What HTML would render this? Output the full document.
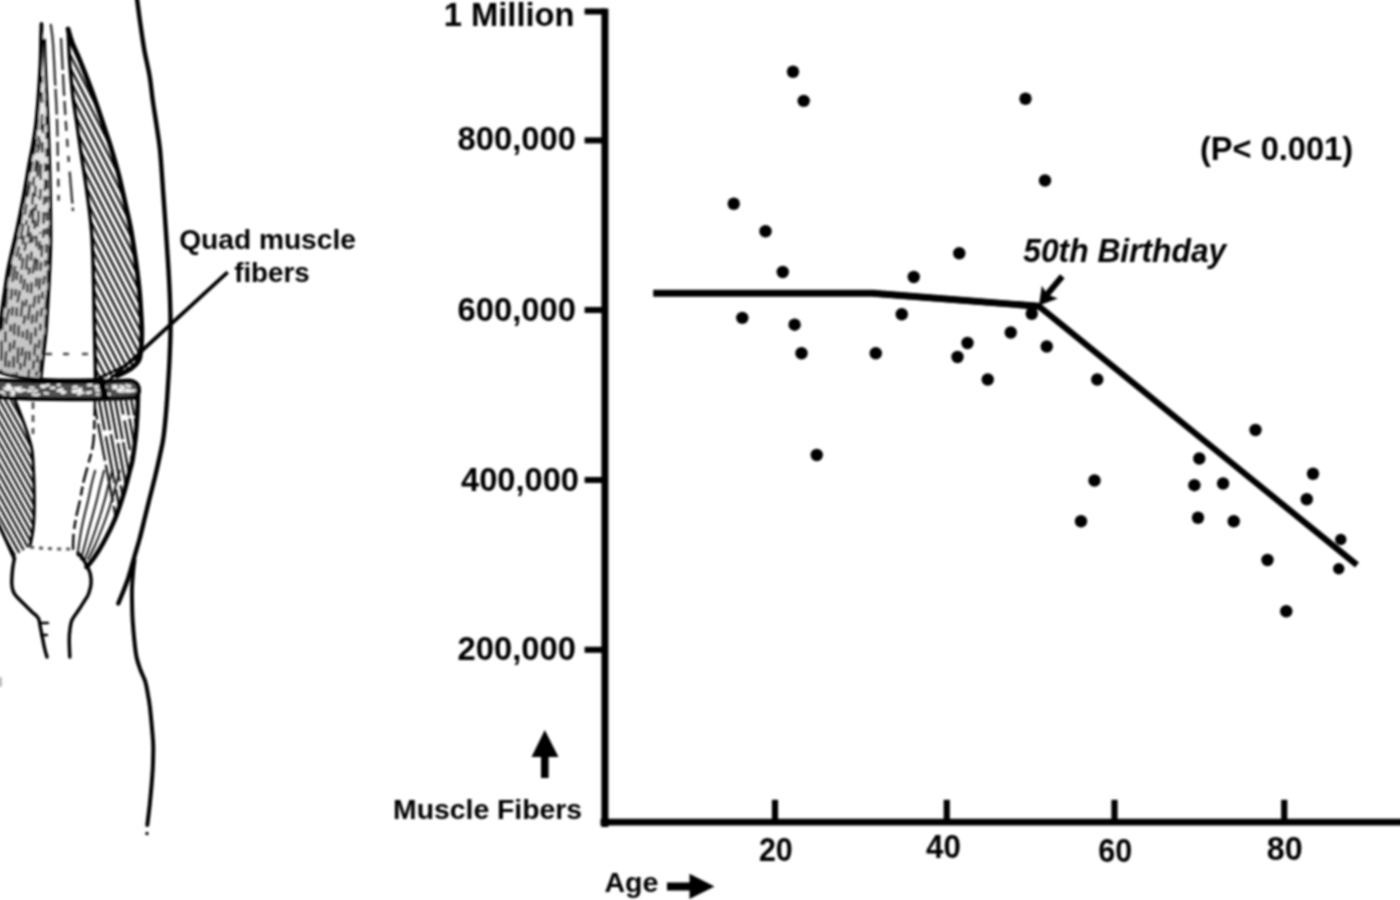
<!DOCTYPE html>
<html lang="en"><head><meta charset="utf-8"><title>Muscle fibers vs age</title>
<style>
html,body{margin:0;padding:0;background:#fff;}
body{width:1400px;height:900px;overflow:hidden;}
svg{display:block;}
text{font-family:"Liberation Sans",Arial,Helvetica,sans-serif;font-weight:bold;fill:#000;}
</style></head><body>
<svg width="1400" height="900" viewBox="0 0 1400 900">
<rect width="1400" height="900" fill="#fff"/>
<defs>
<filter id="soft" filterUnits="userSpaceOnUse" x="-20" y="-20" width="1440" height="940"><feGaussianBlur stdDeviation="1.0"/></filter>
</defs>
<g filter="url(#soft)">

<g id="chart" stroke="#000" fill="none" stroke-linecap="butt">
<path d="M604.9 8.5 V827" stroke-width="7"/>
<path d="M600.5 822.2 H1410" stroke-width="6.8"/>
<path d="M584.6 11.5 H605" stroke-width="6.1"/>
<path d="M584.6 140.4 H605" stroke-width="6.1"/>
<path d="M584.6 310 H605" stroke-width="6.1"/>
<path d="M584.6 480 H605" stroke-width="6.1"/>
<path d="M584.6 649.8 H605" stroke-width="6.1"/>
<path d="M775 799.8 V822" stroke-width="6.2"/>
<path d="M946.75 799.8 V822" stroke-width="6.2"/>
<path d="M1114.5 799.8 V822" stroke-width="6.2"/>
<path d="M1284.25 799.8 V822" stroke-width="6.2"/>
<path d="M653.2 293.3 H873 L1039 306.3" stroke-width="6.9"/>
<path d="M873 293.3 L1039 306.3 L1357 565" stroke-width="6.3" stroke-linejoin="miter"/>
</g>
<g id="dots" fill="#000">
<circle cx="733.75" cy="203.75" r="6.2"/>
<circle cx="765.5" cy="231.25" r="6.2"/>
<circle cx="793" cy="71.75" r="6.2"/>
<circle cx="803.7" cy="100.9" r="6.2"/>
<circle cx="782.75" cy="272" r="6.2"/>
<circle cx="742.3" cy="317.9" r="6.2"/>
<circle cx="794.6" cy="324.7" r="6.2"/>
<circle cx="801.5" cy="353.25" r="6.2"/>
<circle cx="816.75" cy="455" r="6.2"/>
<circle cx="875.75" cy="353.25" r="6.2"/>
<circle cx="901.75" cy="314.25" r="6.2"/>
<circle cx="913.75" cy="277" r="6.2"/>
<circle cx="959.25" cy="253.25" r="6.2"/>
<circle cx="957.5" cy="357" r="6.2"/>
<circle cx="967.5" cy="343" r="6.2"/>
<circle cx="987.75" cy="379.5" r="6.2"/>
<circle cx="1010.75" cy="332.5" r="6.2"/>
<circle cx="1025.5" cy="98.75" r="6.2"/>
<circle cx="1045" cy="180.5" r="6.2"/>
<circle cx="1031.75" cy="313.75" r="6.2"/>
<circle cx="1046.75" cy="346.5" r="6.2"/>
<circle cx="1097.25" cy="379.5" r="6.2"/>
<circle cx="1094.5" cy="480.5" r="6.2"/>
<circle cx="1081" cy="521.25" r="6.2"/>
<circle cx="1199.3" cy="458.5" r="6.2"/>
<circle cx="1194.4" cy="485.2" r="6.2"/>
<circle cx="1198" cy="517.75" r="6.2"/>
<circle cx="1223.1" cy="483.5" r="6.2"/>
<circle cx="1233.75" cy="521.25" r="6.2"/>
<circle cx="1255.5" cy="430" r="6.2"/>
<circle cx="1267.5" cy="560" r="6.2"/>
<circle cx="1286.25" cy="611.25" r="6.2"/>
<circle cx="1313" cy="473.75" r="6.2"/>
<circle cx="1306.75" cy="499.25" r="6.2"/>
<circle cx="1340.75" cy="539.5" r="5.7"/>
<circle cx="1338.75" cy="568.75" r="5.7"/>
</g>
<g id="arrows" fill="#000" stroke="none">
<path d="M544.8 730 L558.5 757 H548.6 V778 H541 V757 H531.5 Z"/>
<path d="M714.5 886.4 L689.5 873.8 V882.5 H667 V890.4 H689.5 V899 Z"/>
<path d="M1062.3 276.3 L1047 294.5" stroke="#000" stroke-width="6" fill="none"/>
<path d="M1039 305.5 L1041.8 285.8 L1047.5 294.5 L1057.8 298.6 Z"/>
</g>
<g id="labels">
<text x="443.7" y="26.2" font-size="33.0" textLength="130.9" lengthAdjust="spacingAndGlyphs">1 Million</text>
<text x="457.5" y="149.8" font-size="33.0" textLength="118.4" lengthAdjust="spacingAndGlyphs">800,000</text>
<text x="457.5" y="321.1" font-size="33.0" textLength="118.4" lengthAdjust="spacingAndGlyphs">600,000</text>
<text x="461.0" y="491.1" font-size="33.0" textLength="118.0" lengthAdjust="spacingAndGlyphs">400,000</text>
<text x="457.5" y="660.4" font-size="33.0" textLength="118.4" lengthAdjust="spacingAndGlyphs">200,000</text>
<text x="758.9" y="860.8" font-size="33.0" textLength="33.9" lengthAdjust="spacingAndGlyphs">20</text>
<text x="926.0" y="858.4" font-size="33.0" textLength="34.9" lengthAdjust="spacingAndGlyphs">40</text>
<text x="1098.2" y="862.3" font-size="33.0" textLength="33.9" lengthAdjust="spacingAndGlyphs">60</text>
<text x="1266.7" y="860.4" font-size="33.0" textLength="35.9" lengthAdjust="spacingAndGlyphs">80</text>
<text x="604.4" y="892.0" font-size="28.4" textLength="53.9" lengthAdjust="spacingAndGlyphs">Age</text>
<text x="393.1" y="819.3" font-size="28.4" textLength="189.0" lengthAdjust="spacingAndGlyphs">Muscle Fibers</text>
<text x="179.2" y="248.6" font-size="28.4" textLength="176.7" lengthAdjust="spacingAndGlyphs">Quad muscle</text>
<text x="234.2" y="281.6" font-size="28.4" textLength="75.5" lengthAdjust="spacingAndGlyphs">fibers</text>
<text x="1023.3" y="261.8" font-size="33.0" textLength="202.9" lengthAdjust="spacingAndGlyphs" font-style="italic">50th Birthday</text>
<text x="1200.0" y="160.4" font-size="33.0" textLength="153.1" lengthAdjust="spacingAndGlyphs">(P&lt; 0.001)</text>
</g>
<g id="anatomy" stroke="#000" fill="none" stroke-linecap="round" stroke-linejoin="round">
<defs>
<clipPath id="cRU"><path d="M68.0 29.0 C68.7 31.2 70.0 36.7 72.0 42.0 C74.0 47.3 76.9 53.2 80.0 60.7 C83.1 68.2 87.4 79.1 90.5 87.3 C93.6 95.5 96.2 103.2 98.5 110.0 C100.8 116.8 102.5 121.9 104.5 128.0 C106.5 134.1 108.3 138.7 110.7 146.7 C113.1 154.7 116.5 166.0 119.0 176.0 C121.5 186.0 123.9 197.2 126.0 206.7 C128.1 216.2 129.7 222.4 131.5 233.0 C133.3 243.6 135.7 260.2 137.0 270.0 C138.3 279.8 138.8 284.8 139.5 292.0 C140.2 299.2 140.6 306.7 141.0 313.0 C141.4 319.3 141.8 324.5 141.8 330.0 C141.9 335.5 141.8 341.0 141.3 346.0 C140.8 351.0 140.7 356.2 139.0 360.0 C137.3 363.8 134.7 365.8 131.0 368.5 C127.3 371.2 119.3 374.8 117.0 376.0 L95.5 379.0 C95.4 375.0 95.2 363.2 95.0 355.0 C94.8 346.8 94.6 340.8 94.4 330.0 C94.2 319.2 93.9 301.3 93.7 290.0 C93.5 278.7 93.3 271.2 93.0 262.0 C92.7 252.8 92.4 243.7 91.8 235.0 C91.2 226.3 90.3 218.8 89.3 210.0 C88.2 201.2 86.8 191.2 85.5 182.0 C84.2 172.8 82.7 164.5 81.3 155.0 C79.9 145.5 78.4 135.0 77.0 125.0 C75.6 115.0 73.9 105.3 72.7 95.0 C71.5 84.7 70.4 71.3 69.7 63.0 C69.0 54.7 69.0 50.7 68.7 45.0 C68.4 39.3 68.1 31.7 68.0 29.0 Z"/></clipPath>
<clipPath id="cLU"><path d="M41.5 24.0 C41.5 26.2 41.4 30.2 41.2 37.0 C41.0 43.8 41.0 54.5 40.5 65.0 C40.0 75.5 39.0 90.0 38.3 100.0 C37.5 110.0 36.9 117.5 36.0 125.0 C35.1 132.5 34.1 138.7 33.0 145.0 C31.9 151.3 31.0 154.7 29.5 163.0 C28.0 171.3 26.0 184.2 24.0 195.0 C22.0 205.8 19.5 218.5 17.5 228.0 C15.5 237.5 13.6 244.7 12.0 252.0 C10.4 259.3 9.0 265.3 7.8 272.0 C6.6 278.7 5.7 286.0 4.8 292.0 C3.9 298.0 3.5 301.7 2.5 308.0 C1.5 314.3 -0.4 326.3 -1.0 330.0 L-3 330 L-3 372 L41 378 C41.4 374.2 42.6 363.0 43.5 355.0 C44.4 347.0 45.5 340.0 46.3 330.0 C47.1 320.0 47.9 305.0 48.5 295.0 C49.1 285.0 49.4 279.2 49.8 270.0 C50.2 260.8 50.7 251.7 50.8 240.0 C50.9 228.3 50.7 213.3 50.5 200.0 C50.3 186.7 49.9 173.3 49.5 160.0 C49.1 146.7 48.5 131.7 48.0 120.0 C47.5 108.3 47.0 100.5 46.5 90.0 C46.0 79.5 45.3 65.3 45.0 57.0 C44.7 48.7 44.6 42.8 44.5 40.0 Z"/></clipPath>
<clipPath id="cLL"><path d="M15.0 400.0 C15.9 402.3 18.5 408.7 20.5 414.0 C22.5 419.3 25.1 426.0 27.0 432.0 C28.9 438.0 30.9 443.7 32.0 450.0 C33.1 456.3 33.1 463.3 33.5 470.0 C33.9 476.7 34.1 483.0 34.2 490.0 C34.3 497.0 34.4 505.3 34.2 512.0 C34.0 518.7 33.7 524.3 33.0 530.0 C32.3 535.7 30.5 543.3 30.0 546.0 L13 557 L-4 520 L-4 398 Z"/></clipPath>
<clipPath id="cRL"><path d="M138.0 394.0 C137.9 397.5 137.7 407.7 137.3 415.0 C136.9 422.3 136.3 430.5 135.5 438.0 C134.7 445.5 133.5 454.3 132.5 460.0 C131.5 465.7 131.0 466.2 129.5 472.0 C128.0 477.8 125.7 487.2 123.3 495.0 C120.9 502.8 117.8 512.1 115.0 519.0 C112.2 525.9 109.5 531.2 106.7 536.5 C104.0 541.8 101.1 546.8 98.5 551.0 C95.9 555.2 93.0 559.3 91.0 562.0 C89.0 564.7 87.2 566.2 86.5 567.0 L73 551 C73.1 547.5 73.0 540.3 73.5 535.0 C74.0 529.7 74.9 523.8 76.0 518.0 C77.1 512.2 78.8 506.0 80.0 500.0 C81.2 494.0 82.2 487.8 83.5 482.0 C84.8 476.2 86.4 471.2 88.0 465.0 C89.6 458.8 92.0 451.7 93.0 445.0 C94.0 438.3 94.0 432.5 94.3 425.0 C94.6 417.5 94.9 404.2 95.0 400.0 Z"/></clipPath>
<clipPath id="cBAND"><path d="M-4 380 C30 382 90 382 130 380 C137 380 139 386 139 390 L137 398 C100 400 40 400 -4 397 Z"/></clipPath>
<linearGradient id="gLU" gradientUnits="userSpaceOnUse" x1="0" y1="40" x2="0" y2="380"><stop offset="0" stop-color="#f2f2f2"/><stop offset="0.5" stop-color="#dcdcdc"/><stop offset="1" stop-color="#bebebe"/></linearGradient>
</defs>
<path d="M136.8 -3.0 C137.4 1.7 139.2 16.2 140.5 25.0 C141.8 33.8 142.8 41.5 144.3 50.0 C145.8 58.5 148.2 67.7 149.6 76.0 C151.0 84.3 151.5 91.8 152.7 100.0 C153.8 108.2 155.3 116.7 156.5 125.0 C157.7 133.3 158.9 139.2 160.0 150.0 C161.1 160.8 162.1 177.5 163.0 190.0 C163.9 202.5 164.7 213.0 165.5 225.0 C166.3 237.0 167.2 249.5 168.0 262.0 C168.8 274.5 169.6 288.7 170.0 300.0 C170.4 311.3 170.6 320.0 170.5 330.0 C170.4 340.0 169.9 350.8 169.5 360.0 C169.1 369.2 168.5 377.2 168.0 385.0 C167.5 392.8 167.2 398.3 166.5 407.0 C165.8 415.7 164.6 429.0 163.5 437.0 C162.4 445.0 161.4 448.3 160.0 455.0 C158.6 461.7 156.8 469.5 155.0 477.0 C153.2 484.5 151.1 492.5 149.2 500.0 C147.3 507.5 145.5 515.3 143.8 522.0 C142.2 528.7 140.9 534.2 139.3 540.0 C137.7 545.8 136.1 550.7 134.3 557.0 C132.5 563.3 130.2 572.2 128.3 578.0 C126.4 583.8 124.7 587.8 123.0 592.0 C121.3 596.2 119.1 601.6 118.3 603.5" stroke-width="4.4"/>
<path d="M134.5 560.0 C134.2 562.2 133.4 568.3 133.0 573.0 C132.6 577.7 132.2 582.7 132.0 588.0 C131.8 593.3 132.0 599.5 132.1 605.0 C132.2 610.5 132.3 615.2 132.7 621.0 C133.1 626.8 133.7 634.0 134.3 640.0 C134.9 646.0 135.5 652.0 136.5 657.0 C137.5 662.0 139.0 665.8 140.5 670.0 C142.0 674.2 144.2 677.8 145.4 682.0 C146.7 686.2 147.2 690.8 148.0 695.0 C148.8 699.2 149.3 702.0 149.9 707.0 C150.5 712.0 151.1 718.7 151.7 725.0 C152.2 731.3 153.0 738.3 153.2 745.0 C153.4 751.7 153.1 758.8 152.9 765.0 C152.7 771.2 152.3 775.3 151.8 782.0 C151.3 788.7 150.4 797.8 149.7 805.0 C148.9 812.2 147.7 821.7 147.3 825.0" stroke-width="4.0"/>
<circle cx="147" cy="833.5" r="1.7" fill="#000" stroke="none"/>
<path d="M0.5 678 v8" stroke-width="2" stroke="#999"/>
<g clip-path="url(#cRU)" stroke-width="2.35" stroke="#101010" stroke-linecap="butt">
<path d="M60 -166.4 L150 9.1"/>
<path d="M60 -153.8 L150 21.7"/>
<path d="M60 -141.2 L150 34.3"/>
<path d="M60 -128.6 L150 46.9"/>
<path d="M60 -116.0 L150 59.5"/>
<path d="M60 -103.4 L150 72.1"/>
<path d="M60 -90.8 L150 84.7"/>
<path d="M60 -78.2 L150 97.3"/>
<path d="M60 -65.6 L150 109.9"/>
<path d="M60 -53.0 L150 122.5"/>
<path d="M60 -40.4 L150 135.1"/>
<path d="M60 -27.8 L150 147.7"/>
<path d="M60 -15.2 L150 160.3"/>
<path d="M60 -2.6 L150 172.9"/>
<path d="M60 10.0 L150 185.5"/>
<path d="M60 22.6 L150 198.1"/>
<path d="M60 35.2 L150 210.7"/>
<path d="M60 47.8 L150 223.3"/>
<path d="M60 60.4 L150 235.9"/>
<path d="M60 73.0 L150 248.5"/>
<path d="M60 85.6 L150 261.1"/>
<path d="M60 98.2 L150 273.7"/>
<path d="M60 110.8 L150 286.3"/>
<path d="M60 123.4 L150 298.9"/>
<path d="M60 136.0 L150 311.5"/>
<path d="M60 148.6 L150 324.1"/>
<path d="M60 161.2 L150 336.7"/>
<path d="M60 173.8 L150 349.3"/>
<path d="M60 186.4 L150 361.9"/>
<path d="M60 199.0 L150 374.5"/>
<path d="M60 211.6 L150 387.1"/>
<path d="M60 224.2 L150 399.7"/>
<path d="M60 236.8 L150 412.3"/>
<path d="M60 249.4 L150 424.9"/>
<path d="M60 262.0 L150 437.5"/>
<path d="M60 274.6 L150 450.1"/>
<path d="M60 287.2 L150 462.7"/>
<path d="M60 299.8 L150 475.3"/>
<path d="M60 312.4 L150 487.9"/>
<path d="M60 325.0 L150 500.5"/>
<path d="M60 337.6 L150 513.1"/>
<path d="M60 350.2 L150 525.7"/>
<path d="M60 362.8 L150 538.3"/>
<path d="M60 375.4 L150 550.9"/>
<path d="M60 388.0 L150 563.5"/>
<path d="M60 400.6 L150 576.1"/>
<path d="M60 413.2 L150 588.7"/>
<path d="M60 425.8 L150 601.3"/>
<path d="M60 438.4 L150 613.9"/>
<path d="M60 451.0 L150 626.5"/>
<path d="M60 463.6 L150 639.1"/>
<path d="M60 476.2 L150 651.7"/>
<path d="M60 488.8 L150 664.3"/>
<path d="M60 501.4 L150 676.9"/>
<path d="M60 514.0 L150 689.5"/>
<path d="M60 526.6 L150 702.1"/>
<path d="M60 539.2 L150 714.7"/>
<path d="M60 551.8 L150 727.3"/>
</g>
<path d="M68.0 29.0 C68.7 31.2 70.0 36.7 72.0 42.0 C74.0 47.3 76.9 53.2 80.0 60.7 C83.1 68.2 87.4 79.1 90.5 87.3 C93.6 95.5 96.2 103.2 98.5 110.0 C100.8 116.8 102.5 121.9 104.5 128.0 C106.5 134.1 108.3 138.7 110.7 146.7 C113.1 154.7 116.5 166.0 119.0 176.0 C121.5 186.0 123.9 197.2 126.0 206.7 C128.1 216.2 129.7 222.4 131.5 233.0 C133.3 243.6 135.7 260.2 137.0 270.0 C138.3 279.8 138.8 284.8 139.5 292.0 C140.2 299.2 140.6 306.7 141.0 313.0 C141.4 319.3 141.8 324.5 141.8 330.0 C141.9 335.5 141.8 341.0 141.3 346.0 C140.8 351.0 140.7 356.2 139.0 360.0 C137.3 363.8 134.7 365.8 131.0 368.5 C127.3 371.2 119.3 374.8 117.0 376.0" stroke-width="4.8"/>
<path d="M68.0 29.0 C68.1 31.7 68.4 39.3 68.7 45.0 C69.0 50.7 69.0 54.7 69.7 63.0 C70.4 71.3 71.5 84.7 72.7 95.0 C73.9 105.3 75.6 115.0 77.0 125.0 C78.4 135.0 79.9 145.5 81.3 155.0 C82.7 164.5 84.2 172.8 85.5 182.0 C86.8 191.2 88.2 201.2 89.3 210.0 C90.3 218.8 91.2 226.3 91.8 235.0 C92.4 243.7 92.7 252.8 93.0 262.0 C93.3 271.2 93.5 278.7 93.7 290.0 C93.9 301.3 94.2 319.2 94.4 330.0 C94.6 340.8 94.8 346.8 95.0 355.0 C95.2 363.2 95.4 375.0 95.5 379.0" stroke-width="3.4"/>
<path d="M139 356 C133 361 126 365 118 369 C112 372 106 375 100 377" stroke-width="2.2"/>
<path d="M41.5 24.0 C41.5 26.2 41.4 30.2 41.2 37.0 C41.0 43.8 41.0 54.5 40.5 65.0 C40.0 75.5 39.0 90.0 38.3 100.0 C37.5 110.0 36.9 117.5 36.0 125.0 C35.1 132.5 34.1 138.7 33.0 145.0 C31.9 151.3 31.0 154.7 29.5 163.0 C28.0 171.3 26.0 184.2 24.0 195.0 C22.0 205.8 19.5 218.5 17.5 228.0 C15.5 237.5 13.6 244.7 12.0 252.0 C10.4 259.3 9.0 265.3 7.8 272.0 C6.6 278.7 5.7 286.0 4.8 292.0 C3.9 298.0 3.5 301.7 2.5 308.0 C1.5 314.3 -0.4 326.3 -1.0 330.0 L-3 330 L-3 372 L41 378 C41.4 374.2 42.6 363.0 43.5 355.0 C44.4 347.0 45.5 340.0 46.3 330.0 C47.1 320.0 47.9 305.0 48.5 295.0 C49.1 285.0 49.4 279.2 49.8 270.0 C50.2 260.8 50.7 251.7 50.8 240.0 C50.9 228.3 50.7 213.3 50.5 200.0 C50.3 186.7 49.9 173.3 49.5 160.0 C49.1 146.7 48.5 131.7 48.0 120.0 C47.5 108.3 47.0 100.5 46.5 90.0 C46.0 79.5 45.3 65.3 45.0 57.0 C44.7 48.7 44.6 42.8 44.5 40.0 Z" fill="url(#gLU)" stroke="none"/>
<g clip-path="url(#cLU)" stroke-width="2.5" stroke="#2c2c2c" stroke-linecap="butt">
<path d="M26.9 184.0 C26.6 186.0 26.0 192.0 25.3 196.0 C24.6 200.0 23.6 204.0 22.9 208.0 C22.1 212.0 21.6 216.0 20.9 220.0 C20.2 224.0 19.5 228.0 18.6 232.0 C17.7 236.0 16.3 240.0 15.3 244.0 C14.3 248.0 13.4 252.0 12.7 256.0 C12.0 260.0 12.0 264.0 11.3 268.0 C10.6 272.0 9.4 276.0 8.6 280.0 C7.9 284.0 7.3 288.0 6.9 292.0 C6.5 296.0 6.6 300.0 6.1 304.0 C5.6 308.0 4.3 312.0 3.7 316.0 C3.1 320.0 2.7 324.0 2.3 328.0 C1.9 332.0 1.6 336.0 1.5 340.0 C1.4 344.0 1.7 348.0 1.6 352.0 C1.5 356.0 1.0 360.0 1.0 364.0 C0.9 368.0 1.4 374.0 1.5 376.0" stroke-dasharray="20 9 13 11" stroke-dashoffset="0"/>
<path d="M38.9 112.0 C38.6 114.0 37.7 120.0 37.3 124.0 C37.0 128.0 37.1 132.0 36.7 136.0 C36.3 140.0 35.6 144.0 34.9 148.0 C34.3 152.0 33.4 156.0 32.7 160.0 C31.9 164.0 31.0 168.0 30.6 172.0 C30.1 176.0 30.3 180.0 29.9 184.0 C29.4 188.0 28.3 192.0 27.6 196.0 C27.0 200.0 26.5 204.0 25.9 208.0 C25.4 212.0 24.8 216.0 24.1 220.0 C23.4 224.0 22.5 228.0 21.8 232.0 C21.1 236.0 20.5 240.0 19.7 244.0 C18.8 248.0 17.5 252.0 16.7 256.0 C15.9 260.0 15.7 264.0 15.0 268.0 C14.3 272.0 13.3 276.0 12.7 280.0 C12.2 284.0 12.1 288.0 11.7 292.0 C11.3 296.0 10.8 300.0 10.1 304.0 C9.3 308.0 8.1 312.0 7.4 316.0 C6.7 320.0 6.1 324.0 5.7 328.0 C5.4 332.0 5.3 336.0 5.4 340.0 C5.4 344.0 6.1 348.0 6.1 352.0 C6.1 356.0 5.4 360.0 5.3 364.0 C5.1 368.0 5.3 374.0 5.3 376.0" stroke-dasharray="16 7 11 9" stroke-dashoffset="16"/>
<path d="M26.9 220.0 C26.6 222.0 25.5 228.0 24.7 232.0 C24.0 236.0 23.3 240.0 22.6 244.0 C21.8 248.0 21.0 252.0 20.3 256.0 C19.5 260.0 18.7 264.0 18.1 268.0 C17.4 272.0 16.9 276.0 16.5 280.0 C16.1 284.0 16.2 288.0 15.7 292.0 C15.1 296.0 13.8 300.0 13.1 304.0 C12.5 308.0 12.2 312.0 11.8 316.0 C11.4 320.0 10.9 324.0 10.6 328.0 C10.3 332.0 10.3 336.0 10.1 340.0 C10.0 344.0 10.0 348.0 9.8 352.0 C9.7 356.0 9.2 360.0 9.1 364.0 C8.9 368.0 9.0 374.0 9.0 376.0" stroke-dasharray="9 9 7 11" stroke-dashoffset="20"/>
<path d="M38.7 136.0 C38.6 138.0 38.6 144.0 38.3 148.0 C37.9 152.0 37.1 156.0 36.5 160.0 C36.0 164.0 35.4 168.0 34.8 172.0 C34.3 176.0 33.6 180.0 33.3 184.0 C33.0 188.0 33.2 192.0 32.9 196.0 C32.6 200.0 32.2 204.0 31.6 208.0 C30.9 212.0 29.5 216.0 28.9 220.0 C28.3 224.0 28.6 228.0 28.1 232.0 C27.6 236.0 26.5 240.0 25.8 244.0 C25.0 248.0 24.2 252.0 23.5 256.0 C22.9 260.0 22.3 264.0 21.9 268.0 C21.4 272.0 21.3 276.0 20.9 280.0 C20.5 284.0 20.2 288.0 19.6 292.0 C19.0 296.0 17.7 300.0 17.2 304.0 C16.7 308.0 16.9 312.0 16.4 316.0 C15.9 320.0 14.5 324.0 14.2 328.0 C13.9 332.0 14.5 336.0 14.4 340.0 C14.3 344.0 13.6 348.0 13.5 352.0 C13.4 356.0 13.7 360.0 13.7 364.0 C13.7 368.0 13.4 374.0 13.4 376.0" stroke-dasharray="12 5 9 7" stroke-dashoffset="9"/>
<path d="M41.7 76.0 C41.7 78.0 41.6 84.0 41.7 88.0 C41.7 92.0 41.9 96.0 42.0 100.0 C42.1 104.0 42.1 108.0 42.1 112.0 C42.0 116.0 42.0 120.0 41.7 124.0 C41.4 128.0 40.5 132.0 40.1 136.0 C39.6 140.0 39.4 144.0 39.1 148.0 C38.8 152.0 38.7 156.0 38.4 160.0 C38.2 164.0 38.1 168.0 37.7 172.0 C37.2 176.0 36.3 180.0 35.8 184.0 C35.3 188.0 35.2 192.0 34.8 196.0 C34.3 200.0 33.5 204.0 33.2 208.0 C32.8 212.0 33.1 216.0 32.7 220.0 C32.3 224.0 31.2 228.0 30.7 232.0 C30.2 236.0 30.2 240.0 29.7 244.0 C29.1 248.0 27.9 252.0 27.4 256.0 C26.8 260.0 26.8 264.0 26.3 268.0 C25.9 272.0 25.3 276.0 24.7 280.0 C24.1 284.0 23.0 288.0 22.7 292.0 C22.3 296.0 22.7 300.0 22.4 304.0 C22.1 308.0 21.4 312.0 20.8 316.0 C20.2 320.0 19.1 324.0 18.7 328.0 C18.4 332.0 18.6 336.0 18.5 340.0 C18.4 344.0 18.1 348.0 18.0 352.0 C17.9 356.0 18.0 360.0 17.7 364.0 C17.5 368.0 16.8 374.0 16.6 376.0" stroke-dasharray="16 9 11 11" stroke-dashoffset="9"/>
<path d="M37.4 196.0 C37.1 198.0 36.1 204.0 35.7 208.0 C35.3 212.0 35.3 216.0 35.0 220.0 C34.8 224.0 34.6 228.0 34.1 232.0 C33.6 236.0 32.5 240.0 32.0 244.0 C31.5 248.0 31.6 252.0 31.2 256.0 C30.8 260.0 30.4 264.0 29.8 268.0 C29.2 272.0 28.2 276.0 27.8 280.0 C27.4 284.0 27.6 288.0 27.3 292.0 C27.0 296.0 26.3 300.0 25.9 304.0 C25.5 308.0 25.3 312.0 24.8 316.0 C24.4 320.0 23.5 324.0 23.1 328.0 C22.8 332.0 22.9 336.0 22.8 340.0 C22.6 344.0 22.5 348.0 22.1 352.0 C21.7 356.0 20.9 360.0 20.6 364.0 C20.2 368.0 20.1 374.0 20.0 376.0" stroke-dasharray="9 7 7 9" stroke-dashoffset="8"/>
<path d="M43.5 124.0 C43.3 126.0 42.8 132.0 42.7 136.0 C42.5 140.0 42.7 144.0 42.5 148.0 C42.3 152.0 41.7 156.0 41.3 160.0 C41.0 164.0 40.8 168.0 40.7 172.0 C40.6 176.0 40.8 180.0 40.7 184.0 C40.6 188.0 40.5 192.0 40.2 196.0 C39.8 200.0 38.9 204.0 38.6 208.0 C38.3 212.0 38.7 216.0 38.4 220.0 C38.0 224.0 36.9 228.0 36.6 232.0 C36.3 236.0 36.5 240.0 36.3 244.0 C36.1 248.0 35.6 252.0 35.2 256.0 C34.7 260.0 34.2 264.0 33.6 268.0 C33.0 272.0 32.2 276.0 31.8 280.0 C31.4 284.0 31.4 288.0 31.1 292.0 C30.8 296.0 30.6 300.0 30.2 304.0 C29.7 308.0 29.0 312.0 28.5 316.0 C28.1 320.0 27.6 324.0 27.4 328.0 C27.1 332.0 27.1 336.0 26.9 340.0 C26.7 344.0 26.5 348.0 26.1 352.0 C25.7 356.0 24.9 360.0 24.6 364.0 C24.4 368.0 24.5 374.0 24.5 376.0" stroke-dasharray="16 9 11 11" stroke-dashoffset="7"/>
<path d="M40.1 232.0 C40.0 234.0 40.1 240.0 39.7 244.0 C39.3 248.0 38.2 252.0 37.8 256.0 C37.3 260.0 37.2 264.0 36.9 268.0 C36.7 272.0 36.5 276.0 36.3 280.0 C36.0 284.0 35.9 288.0 35.6 292.0 C35.2 296.0 34.5 300.0 34.0 304.0 C33.5 308.0 33.1 312.0 32.6 316.0 C32.2 320.0 31.7 324.0 31.4 328.0 C31.1 332.0 31.2 336.0 30.9 340.0 C30.6 344.0 29.9 348.0 29.6 352.0 C29.4 356.0 29.6 360.0 29.4 364.0 C29.3 368.0 28.7 374.0 28.6 376.0" stroke-dasharray="12 7 9 9" stroke-dashoffset="10"/>
<path d="M45.6 160.0 C45.6 162.0 45.3 168.0 45.2 172.0 C45.1 176.0 45.3 180.0 45.2 184.0 C45.1 188.0 44.6 192.0 44.4 196.0 C44.2 200.0 43.9 204.0 43.8 208.0 C43.6 212.0 43.5 216.0 43.5 220.0 C43.5 224.0 43.8 228.0 43.6 232.0 C43.4 236.0 42.7 240.0 42.4 244.0 C42.0 248.0 41.8 252.0 41.5 256.0 C41.3 260.0 41.1 264.0 40.8 268.0 C40.5 272.0 40.2 276.0 39.9 280.0 C39.6 284.0 39.2 288.0 39.0 292.0 C38.8 296.0 39.0 300.0 38.7 304.0 C38.3 308.0 37.3 312.0 36.7 316.0 C36.2 320.0 35.7 324.0 35.6 328.0 C35.4 332.0 35.8 336.0 35.6 340.0 C35.5 344.0 34.8 348.0 34.5 352.0 C34.2 356.0 34.0 360.0 33.6 364.0 C33.2 368.0 32.2 374.0 31.9 376.0" stroke-dasharray="12 5 9 7" stroke-dashoffset="14"/>
<path d="M45.9 88.0 C45.9 90.0 46.0 96.0 46.1 100.0 C46.2 104.0 46.3 108.0 46.3 112.0 C46.3 116.0 46.3 120.0 46.4 124.0 C46.4 128.0 46.6 132.0 46.6 136.0 C46.6 140.0 46.6 144.0 46.6 148.0 C46.6 152.0 46.4 156.0 46.5 160.0 C46.6 164.0 47.1 168.0 47.1 172.0 C47.2 176.0 46.7 180.0 46.8 184.0 C46.8 188.0 47.5 192.0 47.4 196.0 C47.3 200.0 46.4 204.0 46.3 208.0 C46.3 212.0 47.1 216.0 47.1 220.0 C47.2 224.0 46.7 228.0 46.6 232.0 C46.5 236.0 46.6 240.0 46.5 244.0 C46.3 248.0 46.0 252.0 45.8 256.0 C45.5 260.0 45.4 264.0 45.1 268.0 C44.8 272.0 44.4 276.0 43.9 280.0 C43.5 284.0 42.7 288.0 42.5 292.0 C42.3 296.0 42.8 300.0 42.5 304.0 C42.3 308.0 41.3 312.0 40.9 316.0 C40.5 320.0 40.4 324.0 40.2 328.0 C40.0 332.0 39.8 336.0 39.5 340.0 C39.2 344.0 38.6 348.0 38.2 352.0 C37.7 356.0 37.2 360.0 36.9 364.0 C36.6 368.0 36.5 374.0 36.4 376.0" stroke-dasharray="9 7 7 9" stroke-dashoffset="4"/>
<path d="M49.2 208.0 C49.3 210.0 49.9 216.0 49.9 220.0 C50.0 224.0 49.5 228.0 49.5 232.0 C49.4 236.0 49.8 240.0 49.7 244.0 C49.5 248.0 48.9 252.0 48.7 256.0 C48.4 260.0 48.2 264.0 48.0 268.0 C47.9 272.0 47.9 276.0 47.8 280.0 C47.7 284.0 47.8 288.0 47.4 292.0 C47.1 296.0 46.2 300.0 45.9 304.0 C45.6 308.0 46.0 312.0 45.9 316.0 C45.7 320.0 45.6 324.0 45.2 328.0 C44.9 332.0 44.3 336.0 43.9 340.0 C43.4 344.0 43.2 348.0 42.6 352.0 C42.0 356.0 40.8 360.0 40.3 364.0 C39.9 368.0 39.9 374.0 39.8 376.0" stroke-dasharray="20 5 13 7" stroke-dashoffset="8"/>
</g>
<path d="M41.5 24.0 C41.5 26.2 41.4 30.2 41.2 37.0 C41.0 43.8 41.0 54.5 40.5 65.0 C40.0 75.5 39.0 90.0 38.3 100.0 C37.5 110.0 36.9 117.5 36.0 125.0 C35.1 132.5 34.1 138.7 33.0 145.0 C31.9 151.3 31.0 154.7 29.5 163.0 C28.0 171.3 26.0 184.2 24.0 195.0 C22.0 205.8 19.5 218.5 17.5 228.0 C15.5 237.5 13.6 244.7 12.0 252.0 C10.4 259.3 9.0 265.3 7.8 272.0 C6.6 278.7 5.7 286.0 4.8 292.0 C3.9 298.0 3.5 301.7 2.5 308.0 C1.5 314.3 -0.4 326.3 -1.0 330.0" stroke-width="3.9"/>
<path d="M44.5 40.0 C44.6 42.8 44.7 48.7 45.0 57.0 C45.3 65.3 46.0 79.5 46.5 90.0 C47.0 100.5 47.5 108.3 48.0 120.0 C48.5 131.7 49.1 146.7 49.5 160.0 C49.9 173.3 50.3 186.7 50.5 200.0 C50.7 213.3 50.9 228.3 50.8 240.0 C50.7 251.7 50.2 260.8 49.8 270.0 C49.4 279.2 49.1 285.0 48.5 295.0 C47.9 305.0 47.1 320.0 46.3 330.0 C45.5 340.0 44.4 347.0 43.5 355.0 C42.6 363.0 41.4 374.2 41.0 378.0" stroke-width="3.0"/>
<path d="M50.7 24.0 C51.1 27.2 52.3 33.7 53.0 43.0 C53.7 52.3 54.3 67.2 55.0 80.0 C55.7 92.8 56.5 105.8 57.0 120.0 C57.5 134.2 57.7 150.3 58.0 165.0 C58.3 179.7 58.6 200.8 58.7 208.0" stroke="#333" stroke-width="2.4" stroke-dasharray="62 3 26 4 18 5 14 6 10 7 8 8 6 9" stroke-linecap="butt"/>
<path d="M61.0 38.0 C61.3 44.2 62.2 60.5 63.0 75.0 C63.8 89.5 64.9 109.2 66.0 125.0 C67.1 140.8 68.3 155.7 69.5 170.0 C70.7 184.3 72.4 204.2 73.0 211.0" stroke="#333" stroke-width="2.4" stroke-dasharray="32 4 22 5 14 6 10 8 8 9 6 10" stroke-linecap="butt"/>
<path d="M45 354 h7 M63 354 h6 M82 354 h6" stroke-width="2.6" stroke="#444" stroke-linecap="butt"/>
<path d="M-4 371 C8 376 25 378.5 45 379.5 C70 380.5 95 380 100 379" stroke-width="3"/>
<path d="M-4 380 C30 382 90 382 130 380 C137 380 139 386 139 390 L137 398 C100 400 40 400 -4 397 Z" fill="#505050" stroke="none"/>
<g clip-path="url(#cBAND)" stroke="#f4f4f4" stroke-width="2.2">
<path d="M34.3 391.2 l2.8 -0.5"/>
<path d="M44.6 393.2 l3.6 0.3"/>
<path d="M6.4 385.5 l2.7 -0.6"/>
<path d="M98.4 390.2 l2.7 -0.4"/>
<path d="M9.9 388.9 l2.5 -0.2"/>
<path d="M36.6 394.9 l2.6 -0.4"/>
<path d="M0.5 392.2 l3.5 0.1"/>
<path d="M5.9 389.6 l3.1 0.0"/>
<path d="M87.9 385.4 l3.7 -0.5"/>
<path d="M86.6 392.6 l2.3 0.5"/>
<path d="M57.7 385.2 l2.0 -0.3"/>
<path d="M81.4 393.0 l2.1 -0.4"/>
<path d="M3.9 388.3 l3.9 0.1"/>
<path d="M120.1 386.2 l3.2 0.5"/>
<path d="M101.0 393.5 l2.8 -0.1"/>
<path d="M15.0 388.2 l2.8 0.4"/>
<path d="M98.9 389.7 l2.1 -0.1"/>
<path d="M72.8 390.6 l3.1 -0.1"/>
<path d="M113.1 388.4 l3.6 -0.6"/>
<path d="M15.9 389.8 l3.2 -0.3"/>
<path d="M41.3 385.9 l4.0 0.1"/>
<path d="M73.0 387.4 l2.9 -0.5"/>
<path d="M76.4 390.5 l3.7 -0.4"/>
<path d="M10.7 395.0 l3.1 -0.1"/>
<path d="M96.6 394.4 l2.1 0.1"/>
<path d="M129.5 390.6 l3.9 -0.1"/>
<path d="M32.5 394.3 l3.6 0.6"/>
<path d="M57.3 390.7 l2.9 0.5"/>
<path d="M94.6 386.6 l2.5 0.5"/>
<path d="M22.4 390.0 l2.7 0.2"/>
<path d="M131.2 390.9 l3.6 -0.4"/>
<path d="M103.8 386.5 l2.8 0.5"/>
<path d="M117.5 390.4 l3.4 0.2"/>
<path d="M118.0 391.0 l3.0 0.6"/>
<path d="M122.7 388.1 l2.2 0.4"/>
<path d="M27.7 390.7 l2.1 -0.0"/>
<path d="M119.2 389.2 l3.2 0.2"/>
<path d="M28.4 390.8 l3.8 0.2"/>
<path d="M3.8 394.9 l1.7 0.5"/>
<path d="M108.1 393.8 l1.6 0.5"/>
<path d="M123.0 391.5 l3.4 -0.5"/>
<path d="M30.0 387.5 l3.7 0.3"/>
<path d="M19.0 391.2 l3.2 -0.6"/>
<path d="M128.9 386.7 l1.6 -0.4"/>
<path d="M12.6 393.0 l1.8 -0.3"/>
<path d="M126.1 385.4 l2.6 0.3"/>
<path d="M46.5 385.3 l2.3 -0.1"/>
<path d="M10.8 391.4 l3.4 -0.0"/>
<path d="M17.3 388.2 l3.7 -0.5"/>
<path d="M59.7 389.4 l2.8 -0.3"/>
<path d="M72.8 392.0 l3.2 -0.2"/>
<path d="M62.2 391.6 l3.2 0.5"/>
<path d="M112.8 386.1 l3.9 -0.2"/>
<path d="M78.1 390.3 l3.2 0.0"/>
<path d="M8.2 387.9 l3.3 0.3"/>
<path d="M89.1 392.3 l1.9 -0.2"/>
<path d="M127.0 389.5 l1.8 0.1"/>
<path d="M127.1 391.4 l3.1 -0.1"/>
<path d="M41.5 386.9 l2.7 0.3"/>
<path d="M97.4 386.1 l2.0 0.1"/>
<path d="M79.5 388.9 l1.7 -0.3"/>
<path d="M7.4 386.4 l2.7 -0.3"/>
<path d="M96.0 390.1 l3.7 0.5"/>
<path d="M61.9 393.1 l1.7 -0.0"/>
<path d="M137.4 386.5 l3.0 0.2"/>
<path d="M77.9 394.1 l1.8 0.2"/>
<path d="M78.3 391.7 l2.5 0.6"/>
<path d="M17.7 391.1 l3.6 0.4"/>
<path d="M75.2 386.7 l1.9 0.4"/>
<path d="M51.0 387.9 l3.6 -0.1"/>
</g>
<path d="M-4 380 C30 382.5 90 382.5 128 380.5 C136 380.5 139.5 385 139 392" stroke-width="4"/>
<path d="M-4 397 C40 400 100 400 137 397.5" stroke-width="4"/>
<path d="M101 380 L105 397" stroke-width="7"/>
<g clip-path="url(#cLL)" stroke-width="2.3" stroke="#111" stroke-linecap="butt">
<path d="M-6 295.2 L44 385.2"/>
<path d="M-6 305.8 L44 395.8"/>
<path d="M-6 316.4 L44 406.4"/>
<path d="M-6 327.0 L44 417.0"/>
<path d="M-6 337.6 L44 427.6"/>
<path d="M-6 348.2 L44 438.2"/>
<path d="M-6 358.8 L44 448.8"/>
<path d="M-6 369.4 L44 459.4"/>
<path d="M-6 380.0 L44 470.0"/>
<path d="M-6 390.6 L44 480.6"/>
<path d="M-6 401.2 L44 491.2"/>
<path d="M-6 411.8 L44 501.8"/>
<path d="M-6 422.4 L44 512.4"/>
<path d="M-6 433.0 L44 523.0"/>
<path d="M-6 443.6 L44 533.6"/>
<path d="M-6 454.2 L44 544.2"/>
<path d="M-6 464.8 L44 554.8"/>
<path d="M-6 475.4 L44 565.4"/>
<path d="M-6 486.0 L44 576.0"/>
<path d="M-6 496.6 L44 586.6"/>
<path d="M-6 507.2 L44 597.2"/>
<path d="M-6 517.8 L44 607.8"/>
<path d="M-6 528.4 L44 618.4"/>
<path d="M-6 539.0 L44 629.0"/>
<path d="M-6 549.6 L44 639.6"/>
<path d="M-6 560.2 L44 650.2"/>
<path d="M-6 570.8 L44 660.8"/>
<path d="M-6 581.4 L44 671.4"/>
<path d="M-6 592.0 L44 682.0"/>
<path d="M-6 602.6 L44 692.6"/>
<path d="M-6 613.2 L44 703.2"/>
<path d="M-6 623.8 L44 713.8"/>
<path d="M-6 634.4 L44 724.4"/>
<path d="M-6 645.0 L44 735.0"/>
<path d="M-6 655.6 L44 745.6"/>
<path d="M-6 666.2 L44 756.2"/>
<path d="M-6 676.8 L44 766.8"/>
<path d="M-6 687.4 L44 777.4"/>
</g>
<path d="M33 402 V434" stroke-width="2.6" stroke-dasharray="7 6" stroke="#444" stroke-linecap="butt"/>
<path d="M15.0 400.0 C15.9 402.3 18.5 408.7 20.5 414.0 C22.5 419.3 25.1 426.0 27.0 432.0 C28.9 438.0 30.9 443.7 32.0 450.0 C33.1 456.3 33.1 463.3 33.5 470.0 C33.9 476.7 34.1 483.0 34.2 490.0 C34.3 497.0 34.4 505.3 34.2 512.0 C34.0 518.7 33.7 524.3 33.0 530.0 C32.3 535.7 30.5 543.3 30.0 546.0" stroke-width="3"/>
<path d="M-4 520 C2 530 8 545 14 558" stroke-width="3.4"/>
<g clip-path="url(#cRL)" stroke-width="2.4" stroke="#181818" stroke-linecap="butt">
<path d="M92.0 392 L120.5 542.0" stroke-dasharray="38 4" stroke-dashoffset="10"/>
<path d="M97.4 392 L125.3 539.0" stroke-dasharray="48 6" stroke-dashoffset="9"/>
<path d="M102.8 392 L130.2 536.0" stroke-dasharray="48 4" stroke-dashoffset="9"/>
<path d="M108.2 392 L135.0 533.0" stroke-dasharray="48 4" stroke-dashoffset="0"/>
<path d="M113.6 392 L139.8 530.0" stroke-dasharray="48 3" stroke-dashoffset="0"/>
<path d="M119.0 392 L144.7 527.0" stroke-dasharray="30 6" stroke-dashoffset="7"/>
<path d="M124.4 392 L149.5 524.0" stroke-dasharray="38 3" stroke-dashoffset="14"/>
<path d="M129.8 392 L154.3 521.0" stroke-dasharray="30 3" stroke-dashoffset="6"/>
<path d="M135.2 392 L159.1 518.0" stroke-dasharray="30 6" stroke-dashoffset="14"/>
<path d="M140.6 392 L164.0 515.0" stroke-dasharray="30 6" stroke-dashoffset="9"/>
<path d="M146.0 392 L168.8 512.0" stroke-dasharray="48 3" stroke-dashoffset="4"/>
<path d="M151.4 392 L173.6 509.0" stroke-dasharray="38 3" stroke-dashoffset="1"/>
<path d="M156.8 392 L178.5 506.0" stroke-dasharray="30 4" stroke-dashoffset="7"/>
<path d="M162.2 392 L183.3 503.0" stroke-dasharray="48 3" stroke-dashoffset="15"/>
<path d="M167.6 392 L188.1 500.0" stroke-dasharray="48 3" stroke-dashoffset="10"/>
<path d="M173.0 392 L192.9 497.0" stroke-dasharray="38 4" stroke-dashoffset="11"/>
<path d="M178.4 392 L197.8 494.0" stroke-dasharray="48 6" stroke-dashoffset="4"/>
<path d="M183.8 392 L202.6 491.0" stroke-dasharray="30 6" stroke-dashoffset="1"/>
<path d="M95.3 470.0 C94.6 472.5 92.6 480.0 91.4 485.0 C90.3 490.0 89.4 495.0 88.2 500.0 C87.1 505.0 85.7 510.0 84.5 515.0 C83.4 520.0 82.2 525.0 81.3 530.0 C80.3 535.0 79.6 540.0 78.9 545.0 C78.1 550.0 77.2 557.5 76.8 560.0" stroke-width="2"/>
<path d="M104.2 470.0 C103.6 472.5 101.6 480.0 100.4 485.0 C99.1 490.0 98.1 495.0 96.8 500.0 C95.6 505.0 94.1 510.0 92.8 515.0 C91.4 520.0 90.0 525.0 88.6 530.0 C87.3 535.0 86.1 540.0 84.8 545.0 C83.5 550.0 81.5 557.5 80.8 560.0" stroke-width="2"/>
<path d="M112.4 470.0 C111.8 472.5 109.8 480.0 108.5 485.0 C107.2 490.0 106.1 495.0 104.7 500.0 C103.3 505.0 101.8 510.0 100.3 515.0 C98.7 520.0 97.0 525.0 95.4 530.0 C93.7 535.0 92.0 540.0 90.2 545.0 C88.4 550.0 85.5 557.5 84.5 560.0" stroke-width="2"/>
<path d="M119.8 470.0 C119.2 472.5 117.2 480.0 115.9 485.0 C114.5 490.0 113.3 495.0 111.8 500.0 C110.3 505.0 108.8 510.0 107.0 515.0 C105.3 520.0 103.4 525.0 101.4 530.0 C99.4 535.0 97.4 540.0 95.1 545.0 C92.9 550.0 89.0 557.5 87.8 560.0" stroke-width="2"/>
</g>
<path d="M138.0 394.0 C137.9 397.5 137.7 407.7 137.3 415.0 C136.9 422.3 136.3 430.5 135.5 438.0 C134.7 445.5 133.5 454.3 132.5 460.0 C131.5 465.7 131.0 466.2 129.5 472.0 C128.0 477.8 125.7 487.2 123.3 495.0 C120.9 502.8 117.8 512.1 115.0 519.0 C112.2 525.9 109.5 531.2 106.7 536.5 C104.0 541.8 101.1 546.8 98.5 551.0 C95.9 555.2 93.0 559.3 91.0 562.0 C89.0 564.7 87.2 566.2 86.5 567.0" stroke-width="4.6"/>
<path d="M95.0 400.0 C94.9 404.2 94.6 417.5 94.3 425.0 C94.0 432.5 94.0 438.3 93.0 445.0 C92.0 451.7 89.6 458.8 88.0 465.0 C86.4 471.2 84.8 476.2 83.5 482.0 C82.2 487.8 81.2 494.0 80.0 500.0 C78.8 506.0 77.1 512.2 76.0 518.0 C74.9 523.8 74.0 529.7 73.5 535.0 C73.0 540.3 73.1 547.5 73.0 550.0" stroke-width="2.4" stroke-dasharray="16 4 9 5" stroke-linecap="butt"/>
<path d="M30 547 C45 549 60 549 73 549" stroke-width="3" stroke-dasharray="4 5" stroke="#555" stroke-linecap="butt"/>
<path d="M14.5 558.0 C14.2 560.0 12.9 565.7 12.5 570.0 C12.1 574.3 11.6 580.3 11.8 584.0 C12.0 587.7 12.6 589.8 13.5 592.0 C14.4 594.2 15.2 595.0 17.0 597.0 C18.8 599.0 21.5 601.5 24.0 604.0 C26.5 606.5 29.6 609.6 32.0 612.0 C34.4 614.4 37.1 615.8 38.5 618.5 C39.9 621.2 39.8 624.8 40.5 628.0 C41.2 631.2 41.8 634.7 42.5 638.0 C43.2 641.3 43.8 644.8 44.5 648.0 C45.2 651.2 46.6 655.5 47.0 657.0" stroke-width="3.5"/>
<path d="M78.0 553.0 C78.8 554.0 81.5 556.8 83.0 559.0 C84.5 561.2 85.8 563.5 87.0 566.0 C88.2 568.5 89.6 571.0 90.3 574.0 C91.0 577.0 91.3 580.7 91.0 584.0 C90.7 587.3 89.5 591.3 88.5 594.0 C87.5 596.7 86.6 597.4 85.0 600.0 C83.4 602.6 81.2 606.2 79.0 609.5 C76.8 612.8 73.5 616.8 72.0 620.0 C70.5 623.2 70.5 625.7 70.0 629.0 C69.5 632.3 69.2 635.3 69.2 640.0 C69.2 644.7 69.7 654.2 69.8 657.0" stroke-width="3.5"/>
<path d="M40 623 h8 M41 635 h6" stroke-width="2.4"/>
<path d="M227.7 272.2 L141 351.5" stroke-width="3.8" stroke-linecap="butt"/><path d="M141 351.5 L106 383" stroke-width="3" stroke-linecap="butt"/>
</g>
</g>
</svg>
</body></html>
